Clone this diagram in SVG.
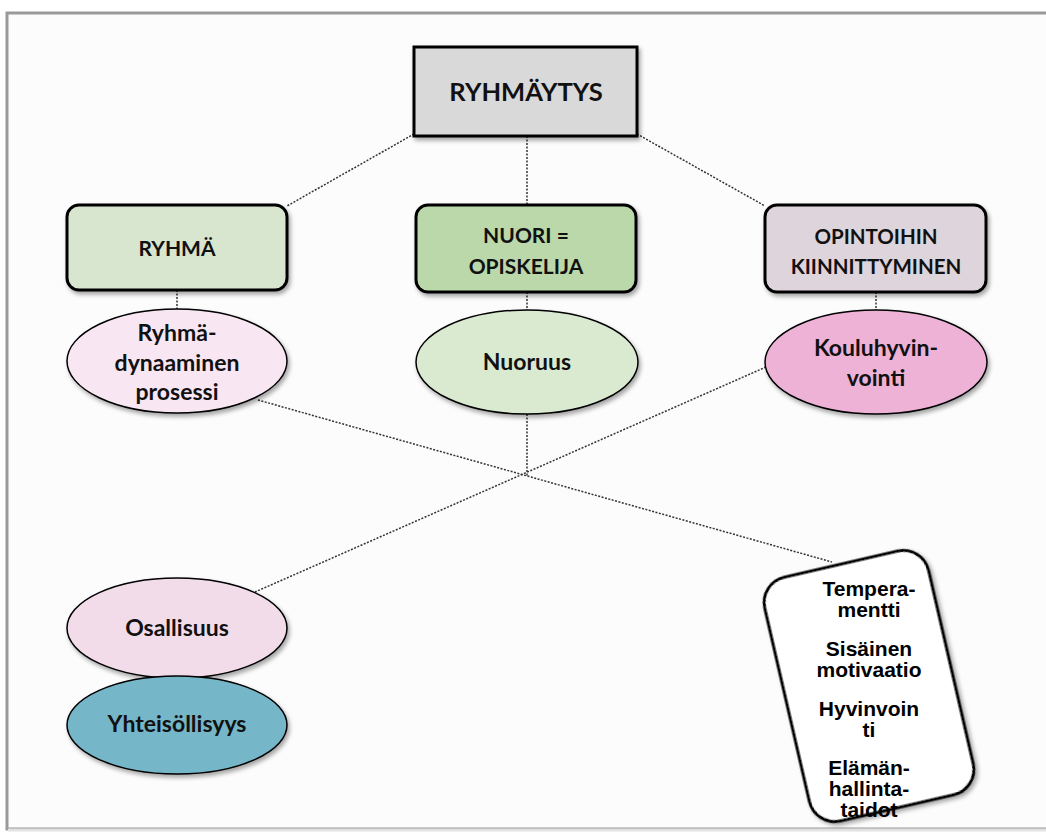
<svg xmlns="http://www.w3.org/2000/svg" width="1046" height="834" viewBox="0 0 1046 834">
<defs>
<filter id="sh" x="-10%" y="-10%" width="130%" height="130%">
<feDropShadow dx="2" dy="3" stdDeviation="2" flood-color="#000" flood-opacity="0.35"/>
</filter>
<style>
.box{stroke:#000;stroke-width:3;filter:url(#sh)}
.ell{stroke:#000;stroke-width:1.5;filter:url(#sh)}
.t{font-family:Lato,"Open Sans",sans-serif;font-weight:bold;fill:#111;text-anchor:middle}
.a{font-family:"Liberation Sans",Arial,sans-serif;font-weight:bold;fill:#000;text-anchor:middle;font-size:21px}
.c{stroke:#333;stroke-width:1.5;stroke-dasharray:2 1.5;fill:none}
</style>
</defs>
<rect x="0" y="0" width="1046" height="834" fill="#fff"/>
<rect x="7" y="13" width="1045" height="816" fill="#fcfcfc" stroke="#9a9a9a" stroke-width="3"/>
<line x1="8" y1="830" x2="1046" y2="830" stroke="#e2e2e2" stroke-width="3"/>
<g id="connectors">
<line class="c" x1="414" y1="134" x2="287" y2="206"/>
<line class="c" x1="527" y1="136" x2="527" y2="205"/>
<line class="c" x1="637" y1="134" x2="765" y2="206"/>
<line class="c" x1="177" y1="290" x2="177" y2="310"/>
<line class="c" x1="527" y1="292" x2="527" y2="310"/>
<line class="c" x1="876" y1="292" x2="876" y2="310"/>
<line class="c" x1="527" y1="414" x2="527" y2="476"/>
<line class="c" x1="258" y1="400" x2="832" y2="562"/>
<line class="c" x1="766" y1="367" x2="255" y2="592"/>
</g>
<g id="ryhmaytys">
<rect class="box" x="414" y="47" width="223" height="89" fill="#d9d9d9"/>
<text class="t" x="526" y="101" font-size="25.5">RYHMÄYTYS</text>
</g>
<g id="ryhma">
<rect class="box" x="67" y="205" width="220" height="85" rx="12" fill="#d8e6d0"/>
<text class="t" x="177" y="256" font-size="21">RYHMÄ</text>
</g>
<g id="nuori">
<rect class="box" x="416" y="205" width="220" height="87" rx="12" fill="#bad8aa"/>
<text class="t" x="526" y="243" font-size="21">NUORI =</text>
<text class="t" x="526" y="274" font-size="21">OPISKELIJA</text>
</g>
<g id="opintoihin">
<rect class="box" x="765" y="205" width="221" height="87" rx="12" fill="#ded4dc"/>
<text class="t" x="876" y="244" font-size="20.5">OPINTOIHIN</text>
<text class="t" x="876" y="274" font-size="20.5">KIINNITTYMINEN</text>
</g>
<g id="ryhmadynaaminen">
<ellipse class="ell" cx="177" cy="361" rx="110" ry="52" fill="#f8e7f3"/>
<text class="t" x="177" y="341" font-size="23">Ryhmä-</text>
<text class="t" x="177" y="371" font-size="23">dynaaminen</text>
<text class="t" x="177" y="400" font-size="23">prosessi</text>
</g>
<g id="nuoruus">
<ellipse class="ell" cx="527" cy="362" rx="111" ry="52" fill="#d9ead1"/>
<text class="t" x="527" y="370" font-size="23">Nuoruus</text>
</g>
<g id="kouluhyvinvointi">
<ellipse class="ell" cx="876" cy="362" rx="111" ry="52" fill="#eeb2d7"/>
<text class="t" x="876" y="356" font-size="23">Kouluhyvin-</text>
<text class="t" x="876" y="386" font-size="23">vointi</text>
</g>
<g id="osallisuus">
<ellipse class="ell" cx="177" cy="628" rx="110" ry="50" fill="#f3dcea"/>
<text class="t" x="177" y="636" font-size="23">Osallisuus</text>
</g>
<g id="yhteisollisyys">
<ellipse class="ell" cx="177" cy="725" rx="110" ry="49" fill="#76b6c9"/>
<text class="t" x="177" y="732" font-size="23">Yhteisöllisyys</text>
</g>
<g id="ominaisuudet">
<rect class="box" x="-84" y="-125" width="168" height="250" rx="26" fill="#fff" transform="translate(869 686) rotate(-13)"/>
<text class="a" x="869" y="596">Tempera-</text>
<text class="a" x="869" y="617">mentti</text>
<text class="a" x="869" y="656">Sisäinen</text>
<text class="a" x="869" y="677">motivaatio</text>
<text class="a" x="869" y="716">Hyvinvoin</text>
<text class="a" x="869" y="737">ti</text>
<text class="a" x="869" y="775">Elämän-</text>
<text class="a" x="869" y="796">hallinta-</text>
<text class="a" x="869" y="817">taidot</text>
</g>
</svg>
